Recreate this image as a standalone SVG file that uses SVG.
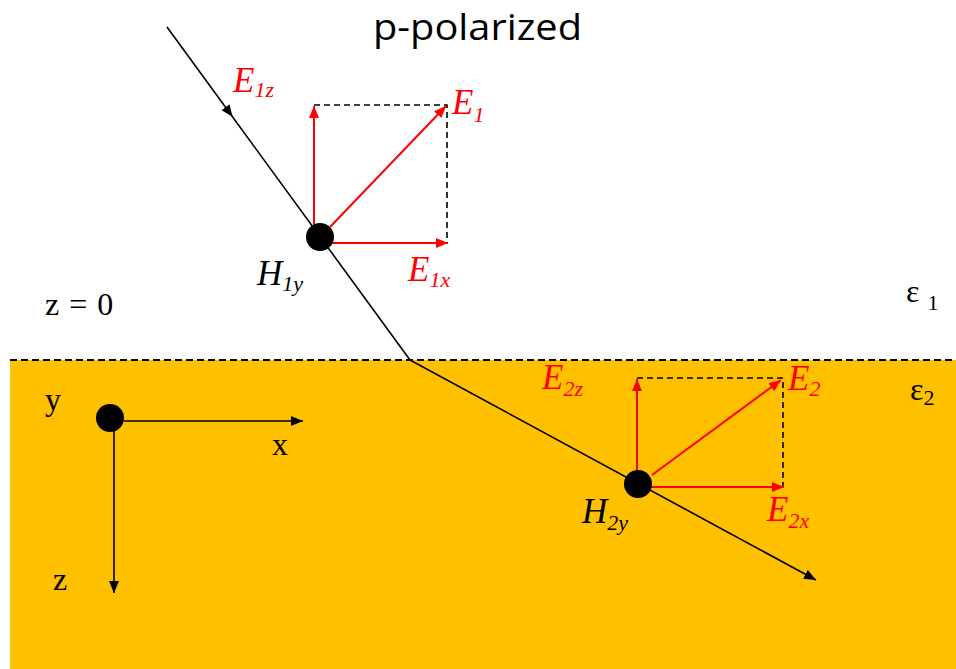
<svg xmlns="http://www.w3.org/2000/svg" width="956" height="669" viewBox="0 0 956 669">
<style>
.ser{font-family:"Liberation Serif","Times New Roman",serif;font-size:32px}
.lab{font-family:"Liberation Serif","Times New Roman",serif;font-style:italic;font-size:35px}
.sub{font-size:22px}
.red{fill:#ff0000}
.blk{fill:#000}
.ra{stroke:#ff0000;stroke-width:2;fill:none}
.ba{stroke:#000;stroke-width:1.6;fill:none}
.dash{stroke:#000;stroke-width:1.6;stroke-dasharray:6 4;fill:none}
</style>
<defs>
<marker id="rh" markerUnits="userSpaceOnUse" markerWidth="12" markerHeight="10" refX="12" refY="5" orient="auto"><path d="M0,0 L12,5 L0,10 z" fill="#ff0000"/></marker>
<marker id="bh" markerUnits="userSpaceOnUse" markerWidth="12" markerHeight="10" refX="12" refY="5" orient="auto"><path d="M0,0 L12,5 L0,10 z" fill="#000"/></marker>
<marker id="bm" markerUnits="userSpaceOnUse" markerWidth="12" markerHeight="10" refX="6" refY="5" orient="auto"><path d="M0,0 L12,5 L0,10 z" fill="#000"/></marker>
</defs>
<rect width="956" height="669" fill="#fff"/>
<rect id="medium2" x="10" y="360" width="946" height="309" fill="#ffc000"/>
<line id="interface" x1="10" y1="360" x2="956" y2="360" stroke="#000" stroke-width="2" stroke-dasharray="7 4"/>
<text x="373" y="40" font-family="'Open Sans','Noto Sans',sans-serif" font-size="37" textLength="209" lengthAdjust="spacingAndGlyphs" fill="#000">p-polarized</text>
<g id="connectors">
<path class="ba" d="M167,27 L229,112 L410,360" marker-mid="url(#bm)"/>
<path class="ba" d="M410,360 L816,580" marker-end="url(#bh)"/>
<path class="dash" d="M314,105 H447 V243"/>
<path class="ra" d="M314,236 V106" marker-end="url(#rh)"/>
<path class="ra" d="M330,227 L446,106" marker-end="url(#rh)"/>
<path class="ra" d="M330,243 H448" marker-end="url(#rh)"/>
<path class="dash" d="M637,378 H783 V487"/>
<path class="ra" d="M637,484 V379" marker-end="url(#rh)"/>
<path class="ra" d="M652,475 L781,380" marker-end="url(#rh)"/>
<path class="ra" d="M650,487 H784" marker-end="url(#rh)"/>
<path class="ba" d="M124,421 H303" marker-end="url(#bh)"/>
<path class="ba" d="M114,430 V593" marker-end="url(#bh)"/>
</g>
<g id="H1">
<circle cx="320" cy="237" r="14" fill="#000"/>
<text class="lab blk" x="257" y="285">H<tspan class="sub" dy="6">1y</tspan></text>
</g>
<g id="E1labels">
<text class="lab red" x="233" y="92">E<tspan class="sub" dy="5">1z</tspan></text>
<text class="lab red" x="452" y="114">E<tspan class="sub" dy="8">1</tspan></text>
<text class="lab red" x="408" y="281">E<tspan class="sub" dy="6">1x</tspan></text>
</g>
<g id="H2">
<circle cx="638" cy="484" r="14" fill="#000"/>
<text class="lab blk" x="582" y="523">H<tspan class="sub" dy="7">2y</tspan></text>
</g>
<g id="E2labels">
<text class="lab red" x="542" y="389">E<tspan class="sub" dy="7">2z</tspan></text>
<text class="lab red" x="788" y="390">E<tspan class="sub" dy="6">2</tspan></text>
<text class="lab red" x="767" y="521">E<tspan class="sub" dy="7">2x</tspan></text>
</g>
<g id="axes">
<circle cx="110" cy="418" r="14" fill="#000"/>
<text class="ser" x="45" y="410">y</text>
<text class="ser" x="272" y="455">x</text>
<text class="ser" x="53" y="590">z</text>
</g>
<text class="ser" x="45" y="315" word-spacing="2">z = 0</text>
<text class="ser" x="906" y="302">ε <tspan font-size="22" dy="8">1</tspan></text>
<text class="ser" x="910" y="400">ε<tspan font-size="22" dy="5">2</tspan></text>
</svg>
